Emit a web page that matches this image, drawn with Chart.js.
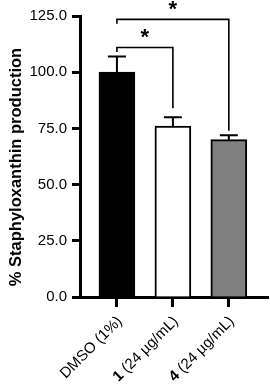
<!DOCTYPE html>
<html><head><meta charset="utf-8">
<script src="https://cdn.jsdelivr.net/npm/chart.js@4/dist/chart.umd.min.js"></script>
<style>html,body{margin:0;padding:0;background:#fff}#wrap{width:270px;height:385px}</style>
</head><body><div id="wrap"><canvas id="c" width="270" height="385"></canvas></div>
<script>
const categories = ['DMSO (1%)', '1 (24 µg/mL)', '4 (24 µg/mL)'];
const boldPrefix = [false, true, true];
const means = [100, 76, 70];
const errors = [7, 4, 2];
const barColors = ['#000000', '#ffffff', '#808080'];
const yTicks = [0, 25, 50, 75, 100, 125];
const yTitle = '% Staphyloxanthin production';
const comparisons = [
  {from: 0, to: 1, y: 111, leftEnd: 109, rightEnd: 84, label: '*'},
  {from: 0, to: 2, y: 123.5, leftEnd: 121.5, rightEnd: 74, label: '*'}
];

const FONT = '"Liberation Sans", Arial, Helvetica, sans-serif';

const overlay = {
  id: 'overlay',
  afterDatasetsDraw(chart) {
    const ctx = chart.ctx, xs = chart.scales.x, ys = chart.scales.y;
    ctx.save();
    ctx.strokeStyle = '#000'; ctx.lineWidth = 2;
    means.forEach((m, i) => {
      const x = xs.getPixelForValue(i);
      const y0 = ys.getPixelForValue(m), y1 = ys.getPixelForValue(m + errors[i]);
      ctx.beginPath();
      ctx.moveTo(x, y0); ctx.lineTo(x, y1);
      ctx.moveTo(x - 9, y1); ctx.lineTo(x + 9, y1);
      ctx.stroke();
    });
    ctx.lineWidth = 1.6;
    comparisons.forEach(c => {
      const xa = xs.getPixelForValue(c.from), xb = xs.getPixelForValue(c.to);
      const yb = ys.getPixelForValue(c.y);
      ctx.beginPath();
      ctx.moveTo(xa, ys.getPixelForValue(c.leftEnd));
      ctx.lineTo(xa, yb); ctx.lineTo(xb, yb);
      ctx.lineTo(xb, ys.getPixelForValue(c.rightEnd));
      ctx.stroke();
      ctx.fillStyle = '#000';
      ctx.font = 'bold 22px ' + FONT;
      ctx.textAlign = 'center'; ctx.textBaseline = 'alphabetic';
      ctx.fillText(c.label, (xa + xb) / 2, yb - 3);
    });
    ctx.restore();
  },
  afterDraw(chart) {
    const ctx = chart.ctx, xs = chart.scales.x;
    ctx.save();
    ctx.fillStyle = '#000';
    // y-axis title
    ctx.save();
    ctx.translate(16, 167);
    ctx.rotate(-Math.PI / 2);
    ctx.font = 'bold 16.5px ' + FONT;
    ctx.textAlign = 'center'; ctx.textBaseline = 'middle';
    ctx.fillText(yTitle, 0, 0);
    ctx.restore();
    // x labels
    ctx.textBaseline = 'middle'; ctx.textAlign = 'right';
    categories.forEach((lab, i) => {
      const x = xs.getPixelForValue(i);
      const sp = lab.indexOf(' ');
      const pre = lab.slice(0, sp), rest = lab.slice(sp);
      ctx.save();
      ctx.translate(x + 3, xs.top + 22);
      ctx.rotate(-Math.PI / 4);
      ctx.font = '15px ' + FONT;
      const w = ctx.measureText(rest).width;
      ctx.fillText(rest, 0, 0);
      ctx.font = (boldPrefix[i] ? 'bold ' : '') + '15px ' + FONT;
      ctx.fillText(pre, -w, 0);
      ctx.restore();
    });
    ctx.restore();
  }
};

new Chart(document.getElementById('c'), {
  type: 'bar',
  data: {
    datasets: [{
      data: means.map((m, i) => ({x: i, y: m})),
      backgroundColor: barColors,
      borderColor: '#000',
      borderWidth: 2,
      borderSkipped: 'bottom',
      barThickness: 36
    }]
  },
  options: {
    responsive: false,
    animation: false,
    devicePixelRatio: 1,
    layout: {padding: {left: 4, right: 2, top: 16, bottom: 78}},
    plugins: {legend: {display: false}, tooltip: {enabled: false}},
    scales: {
      x: {
        type: 'linear',
        offset: false,
        min: -0.66, max: 2.7,
        afterBuildTicks: s => { s.ticks = categories.map((c, i) => ({value: i})); },
        ticks: {display: false},
        grid: {display: true, offset: false, drawOnChartArea: false, drawTicks: true, tickLength: 10, tickWidth: 3, tickColor: '#000', color: '#000'},
        border: {display: true, color: '#000', width: 3}
      },
      y: {
        min: 0, max: 125,
        afterBuildTicks: s => { s.ticks = yTicks.map(v => ({value: v})); },
        afterFit: s => { s.width = 76; },
        ticks: {color: '#000', font: {size: 15, family: FONT}, padding: 5, callback: v => v.toFixed(1)},
        grid: {display: true, drawOnChartArea: false, drawTicks: true, tickLength: 8, tickWidth: 3, tickColor: '#000', color: '#000'},
        border: {display: true, color: '#000', width: 3},
        title: {display: false}
      }
    }
  },
  plugins: [overlay]
});
</script></body></html>
